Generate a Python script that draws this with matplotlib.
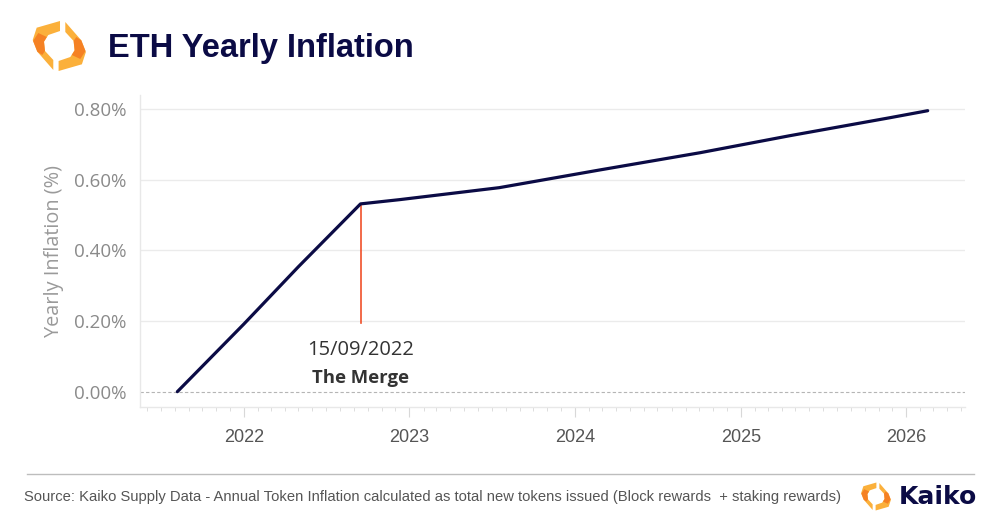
import matplotlib
matplotlib.use("Agg")
import matplotlib.pyplot as plt
import matplotlib.dates as mdates
from matplotlib.patches import Polygon
import datetime as dt

# ---- data ----
dates = ["2021-08-07", "2022-01-01", "2022-05-01", "2022-09-15", "2022-12-10",
         "2023-07-18", "2024-02-24", "2024-10-03", "2025-04-18", "2025-11-25",
         "2026-02-17"]
inflation = [0.000, 0.192, 0.354, 0.532, 0.544, 0.578, 0.628, 0.677, 0.725,
             0.776, 0.796]
merge_date = "2022-09-15"
merge_value = 0.532
merge_line_bottom = 0.194
merge_label_date = "15/09/2022"
merge_label = "The Merge"
yticks = [0.0, 0.2, 0.4, 0.6, 0.8]
xyears = [2022, 2023, 2024, 2025, 2026]
title = "ETH Yearly Inflation"
ylabel = "Yearly Inflation (%)"
source = ("Source: Kaiko Supply Data - Annual Token Inflation calculated as total new "
          "tokens issued (Block rewards  + staking rewards)")

NAVY = "#0b0b45"
FONT = ["Liberation Sans", "DejaVu Sans"]

W, H = 994, 525
fig = plt.figure(figsize=(W / 100, H / 100), dpi=100)

def fx(px):
    return px / W

def fy(py):
    return 1 - py / H

ax = fig.add_axes([fx(140), fy(407), fx(965) - fx(140), fy(95) - fy(407)])

d = [mdates.date2num(dt.datetime.strptime(s, "%Y-%m-%d")) for s in dates]
ax.plot(d, inflation, color=NAVY, lw=2.3, solid_capstyle="round",
        solid_joinstyle="round", zorder=3)

md = mdates.date2num(dt.datetime.strptime(merge_date, "%Y-%m-%d"))
ax.plot([md, md], [merge_line_bottom, merge_value], color="#f0502a", lw=1.2, zorder=2)
ax.text(md, 0.117, merge_label_date, ha="center", va="center", fontsize=14.5,
        color="#333333", family=["Open Sans", "DejaVu Sans"])
ax.text(md, 0.038, merge_label, ha="center", va="center", fontsize=13.3,
        color="#333333", fontweight="bold", family=["Open Sans", "DejaVu Sans"])

# axes limits
y2022 = mdates.date2num(dt.datetime(2022, 1, 1))
ppy = 165.6
ax.set_xlim(y2022 + (140 - 244) / ppy * 365.25, y2022 + (965 - 244) / ppy * 365.25)
ax.set_ylim(-0.0434, 0.8405)

for v in yticks[1:]:
    ax.axhline(v, color="#ebebeb", lw=1.0, zorder=1)
ax.axhline(0, color="#b5b5b5", lw=0.8, ls=(0, (3, 2)), zorder=1)

ax.set_yticks(yticks)
ax.set_yticklabels([f"{v:.2f}%" for v in yticks])
ax.set_xticks([mdates.date2num(dt.datetime(y, 1, 1)) for y in xyears])
ax.set_xticklabels([str(y) for y in xyears])
ax.xaxis.set_minor_locator(mdates.MonthLocator())

for s in ["top", "right"]:
    ax.spines[s].set_visible(False)
for s in ["left", "bottom"]:
    ax.spines[s].set_color("#e8e8e8")
    ax.spines[s].set_linewidth(1.0)

ax.tick_params(axis="y", length=0, pad=10, labelsize=13.5, labelcolor="#8a8a8a")
ax.tick_params(axis="x", which="major", length=7, width=0.8, color="#d8d8d8",
               pad=9, labelsize=13, labelcolor="#555555")
ax.tick_params(axis="x", which="minor", length=3, width=0.6, color="#d8d8d8")
for lab in ax.get_yticklabels():
    lab.set_family(["Open Sans", "DejaVu Sans"])
for lab in ax.get_xticklabels():
    lab.set_family(["Liberation Sans Narrow", "Liberation Sans", "DejaVu Sans"])

ax.set_ylabel(ylabel, fontsize=14.3, color="#9a9a9a", labelpad=7,
              family=["Open Sans", "DejaVu Sans"])

# title
fig.text(fx(108), fy(49), title, ha="left", va="center", fontsize=23.5,
         fontweight="bold", color=NAVY, family=FONT)

# logos
LEFT = [(0.7, -25), (-22.6, -18.3), (-26.6, -6), (-22, 5.7), (-6, 24),
        (-6, 14), (-14.3, 5), (-15.3, -4.3), (-11, -11), (0.7, -15)]
LEFT_IN = [(-21, -13), (-26.2, -5), (-22, 5.7), (-17, 9), (-14.3, 5),
           (-15.3, -4.3), (-12.5, -9)]

def add_poly(pts, cx, cy, s, col, alpha=1.0):
    poly = [(fx(cx + x * s), fy(cy + y * s)) for x, y in pts]
    fig.patches.append(Polygon(poly, closed=True, transform=fig.transFigure,
                               facecolor=col, edgecolor="none", alpha=alpha))

def draw_logo(cx, cy, s):
    right = [(-x, -y) for x, y in LEFT]
    right_in = [(-x, -y) for x, y in LEFT_IN]
    add_poly(LEFT, cx, cy, s, "#fbb03b")
    add_poly(right, cx, cy, s, "#fbb03b")
    add_poly(LEFT_IN, cx, cy, s, "#f47920", 0.85)
    add_poly(right_in, cx, cy, s, "#f47920", 0.85)

draw_logo(59.3, 46, 1.0)
draw_logo(876, 496.5, 0.56)

# footer
fig.add_artist(plt.Line2D([fx(27), fx(974)], [fy(474), fy(474)], color="#bdbdbd",
                          lw=1.0, transform=fig.transFigure))
fig.text(fx(24), fy(497), source, ha="left", va="center", fontsize=10.6,
         color="#555555", family=["Liberation Sans Narrow", "Liberation Sans", "DejaVu Sans"])
fig.text(fx(899), fy(497), "Kaiko", ha="left", va="center", fontsize=18,
         fontweight="bold", color=NAVY, family=["DejaVu Sans"])

fig.savefig("out.png", dpi=100, facecolor="white")
